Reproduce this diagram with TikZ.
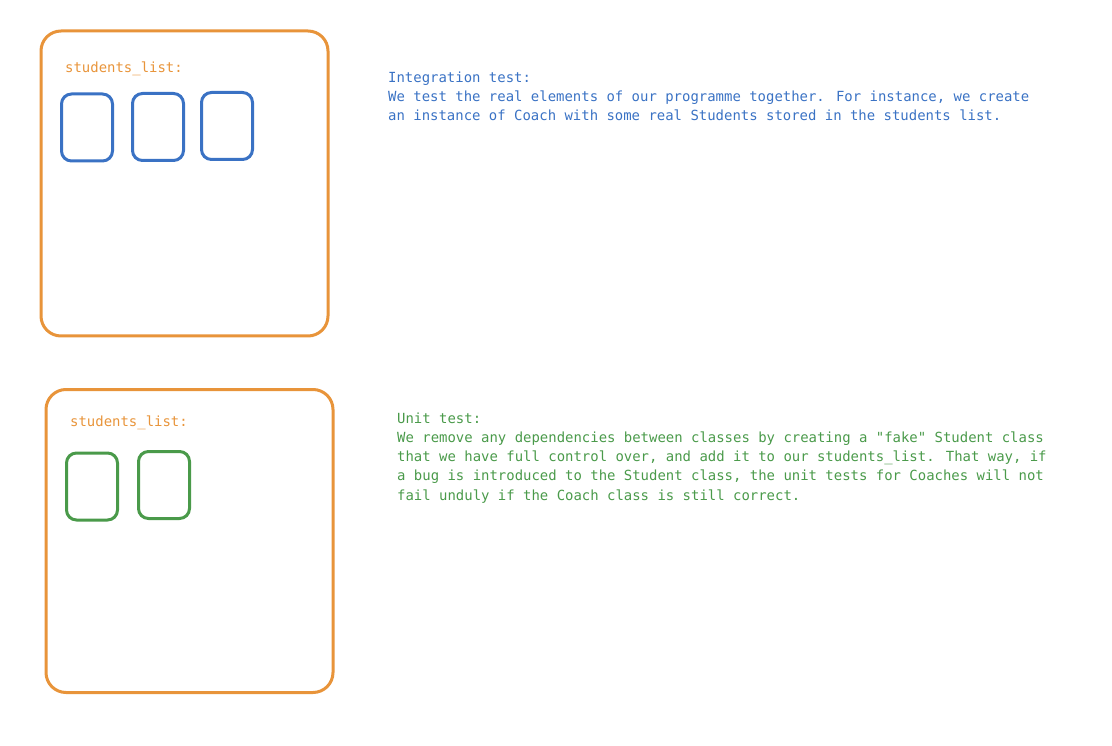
\documentclass[tikz,border=0pt]{standalone}
\usepackage{fontspec}
\newfontfamily\handmono{DejaVu Sans Mono}
\definecolor{exorange}{HTML}{E8943A}
\definecolor{exblue}{HTML}{3A72C4}
\definecolor{exgreen}{HTML}{4A9A4A}
\tikzset{
  bigbox/.style={draw=exorange, line width=3pt, rounded corners=20pt, minimum width=287pt, minimum height=305pt, inner sep=0pt},
  itembox/.style={draw=#1, line width=3pt, rounded corners=10pt, minimum width=51pt, minimum height=67pt, inner sep=0pt},
  label/.style={text=exorange, font=\handmono\fontsize{13.95pt}{19pt}\selectfont, anchor=north west, inner sep=0pt},
  desc/.style={text=#1, font=\handmono\fontsize{13.95pt}{19.2pt}\selectfont, anchor=north west, inner sep=0pt, align=left},
}
\begin{document}
\begin{tikzpicture}[x=1pt,y=-1pt]
\useasboundingbox (0,0) rectangle (1112,746);
% top panel
\node[bigbox] (top) at (184.5,183.5) {};
\node[label] (toplabel) at (65,62) {students\_list:};
\node[itembox=exblue] (b1) at (87,127.5) {};
\node[itembox=exblue] (b2) at (158,127) {};
\node[itembox=exblue] (b3) at (227,126) {};
\node[desc=exblue] (integ) at (388,71.5) {Integration test:\\
We test the real elements of our programme together. For instance, we create\\
an instance of Coach with some real Students stored in the students list.};
% bottom panel
\node[bigbox, minimum height=303pt] (bot) at (189.5,541) {};
\node[label] (botlabel) at (70,416) {students\_list:};
\node[itembox=exgreen] (g1) at (92,486.5) {};
\node[itembox=exgreen] (g2) at (164,485) {};
\node[desc=exgreen] (unit) at (397,412.5) {Unit test:\\
We remove any dependencies between classes by creating a "fake" Student class\\
that we have full control over, and add it to our students\_list. That way, if\\
a bug is introduced to the Student class, the unit tests for Coaches will not\\
fail unduly if the Coach class is still correct.};
\end{tikzpicture}
\end{document}
